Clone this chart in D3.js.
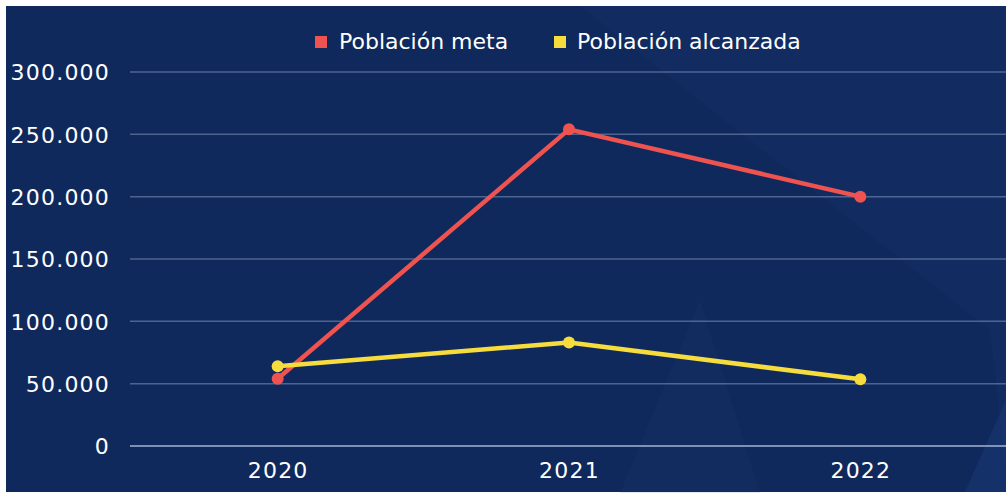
<!DOCTYPE html>
<html>
<head>
<meta charset="utf-8">
<script src="https://cdn.jsdelivr.net/npm/d3@7"></script>
<style>
  html, body { margin: 0; padding: 0; background: #ffffff; }
  svg { display: block; }
  text { font-family: "DejaVu Sans", sans-serif; }
</style>
</head>
<body>
<svg id="chart" width="1006" height="493"></svg>
<script>
const categories = ["2020", "2021", "2022"];
const seriesNames = ["Población meta", "Población alcanzada"];
const poblacionMeta = [54000, 254000, 200000];
const poblacionAlcanzada = [64000, 83000, 53500];
const yTicks = [0, 50000, 100000, 150000, 200000, 250000, 300000];
const yTickLabels = ["0", "50.000", "100.000", "150.000", "200.000", "250.000", "300.000"];
const colors = ["#ef5350", "#f6dc3d"];

const W = 1006, H = 493;
const svg = d3.select("#chart");

// background
const bg = svg.append("g");
bg.append("rect").attr("x", 6).attr("y", 6).attr("width", W - 6).attr("height", H - 7).attr("fill", "#10295c");
// subtle lighter facets
bg.append("path").attr("d", "M580,6 L1006,6 L1006,470 L990,330 Z").attr("fill", "#1d3f80").attr("opacity", 0.18);
bg.append("path").attr("d", "M620,493 L700,300 L760,493 Z").attr("fill", "#1d3f80").attr("opacity", 0.12);
bg.append("path").attr("d", "M965,492 L1006,400 L1006,492 Z").attr("fill", "#1d3f80").attr("opacity", 0.4);

const x = d3.scalePoint().domain(categories).range([132, 1006]).padding(0.5);
const y = d3.scaleLinear().domain([0, 300000]).range([446, 72]);

// grid
const grid = svg.append("g");
grid.selectAll("line").data(yTicks).join("line")
  .attr("x1", 130).attr("x2", W)
  .attr("y1", d => y(d)).attr("y2", d => y(d))
  .attr("stroke", d => d === 0 ? "rgba(200,215,240,0.6)" : "rgba(170,190,225,0.4)")
  .attr("stroke-width", d => d === 0 ? 2 : 1.5);

// y axis labels
const yAxis = d3.axisLeft(y).tickValues(yTicks).tickFormat((d, i) => yTickLabels[i]).tickSize(0).tickPadding(0);
const yg = svg.append("g").attr("transform", "translate(110,0)").call(yAxis);
yg.select(".domain").remove();
yg.selectAll("text").attr("fill", "#ffffff").attr("font-size", 22)
  .attr("font-family", "DejaVu Sans, sans-serif").attr("letter-spacing", 1.2).attr("dy", "0.36em");

// x axis labels
const xAxis = d3.axisBottom(x).tickSize(0).tickPadding(0);
const xg = svg.append("g").attr("transform", "translate(0,462)").call(xAxis);
xg.select(".domain").remove();
xg.selectAll("text").attr("fill", "#ffffff").attr("font-size", 22)
  .attr("font-family", "DejaVu Sans, sans-serif").attr("letter-spacing", 1.2).attr("dy", "0.74em");

// lines
const series = [poblacionMeta, poblacionAlcanzada];
const line = d3.line().x((d, i) => x(categories[i])).y(d => y(d));
series.forEach((vals, si) => {
  svg.append("path").datum(vals).attr("d", line)
    .attr("fill", "none").attr("stroke", colors[si]).attr("stroke-width", 4.5)
    .attr("stroke-linejoin", "round");
});
series.forEach((vals, si) => {
  svg.append("g").selectAll("circle").data(vals).join("circle")
    .attr("cx", (d, i) => x(categories[i])).attr("cy", d => y(d))
    .attr("r", 6).attr("fill", colors[si]);
});

// legend
const legendItems = [{ name: seriesNames[0], sx: 315, tx: 339 }, { name: seriesNames[1], sx: 554, tx: 577 }];
const lg = svg.append("g");
legendItems.forEach((it, i) => {
  lg.append("rect").attr("x", it.sx).attr("y", 36).attr("width", 12).attr("height", 12).attr("fill", colors[i]);
  lg.append("text").attr("x", it.tx).attr("y", 49).attr("fill", "#ffffff").attr("font-size", 22).text(it.name);
});
</script>
</body>
</html>
